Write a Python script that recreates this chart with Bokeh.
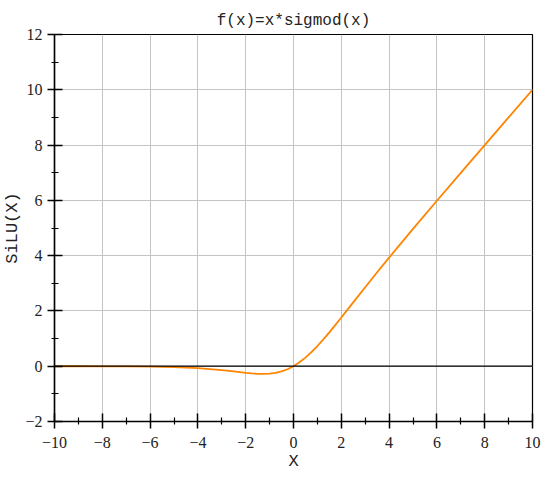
from bokeh.plotting import figure
from bokeh.models import FixedTicker, Span
from bokeh.embed import file_html
from bokeh.resources import INLINE

# data
x_vals = [-10, -9, -8, -7, -6, -5, -4.5, -4, -3.5, -3, -2.5, -2, -1.75, -1.5, -1.25, -1,
          -0.75, -0.5, -0.25, 0, 0.25, 0.5, 0.75, 1, 1.25, 1.5, 2, 2.5, 3, 3.5, 4, 5, 6, 7, 8, 9, 10]
y_vals = [-0.0005, -0.001, -0.003, -0.006, -0.015, -0.033, -0.05, -0.072, -0.102, -0.142,
          -0.189, -0.238, -0.258, -0.274, -0.279, -0.269, -0.240, -0.189, -0.109, 0.0,
          0.141, 0.311, 0.510, 0.731, 0.971, 1.226, 1.762, 2.311, 2.858, 3.398, 3.928,
          4.967, 5.985, 6.994, 7.997, 8.999, 10.0]

x_ticks = [-10, -8, -6, -4, -2, 0, 2, 4, 6, 8, 10]
x_tick_labels = ["\u221210", "\u22128", "\u22126", "\u22124", "\u22122", "0", "2", "4", "6", "8", "10"]
x_minor = [-9, -7, -5, -3, -1, 1, 3, 5, 7, 9]
y_ticks = [-2, 0, 2, 4, 6, 8, 10, 12]
y_tick_labels = ["\u22122", "0", "2", "4", "6", "8", "10", "12"]
y_minor = [-1, 1, 3, 5, 7, 9, 11]

title_text = "f(x)=x*sigmod(x)"
x_label = "X"
y_label = "SiLU(X)"

TEXT = "#222222"

p = figure(width=542, height=473, x_range=(-10, 10), y_range=(-2, 12),
           output_backend="svg", toolbar_location=None, title=title_text,
           min_border_left=54, min_border_right=10, min_border_top=34, min_border_bottom=50)

p.title.align = "center"
p.title.text_font = "Liberation Mono"
p.title.text_font_size = "16px"
p.title.text_font_style = "normal"
p.title.text_color = TEXT

p.outline_line_color = "black"
p.outline_line_width = 1.2
p.background_fill_color = "white"
p.border_fill_color = "white"

for ax, ticks, labels, minor, lab in [(p.xaxis[0], x_ticks, x_tick_labels, x_minor, x_label),
                                      (p.yaxis[0], y_ticks, y_tick_labels, y_minor, y_label)]:
    ax.ticker = FixedTicker(ticks=ticks, minor_ticks=minor)
    ax.major_label_overrides = {t: l for t, l in zip(ticks, labels)}
    ax.axis_label = lab
    ax.axis_label_text_font = "Liberation Mono"
    ax.axis_label_text_font_size = "17px"
    ax.axis_label_text_font_style = "normal"
    ax.axis_label_text_color = TEXT
    ax.major_label_text_font = "Liberation Serif"
    ax.major_label_text_font_size = "16px"
    ax.major_label_text_color = TEXT
    ax.axis_line_color = "black"
    ax.axis_line_width = 1.5
    ax.major_tick_line_color = "black"
    ax.major_tick_line_width = 1.5
    ax.minor_tick_line_color = "black"
    ax.minor_tick_line_width = 1.2
    ax.major_tick_in = 8
    ax.major_tick_out = 7
    ax.minor_tick_in = 4
    ax.minor_tick_out = 3
p.xaxis[0].major_label_standoff = 8
p.xaxis[0].axis_label_standoff = 1
p.yaxis[0].major_label_standoff = 5
p.yaxis[0].axis_label_standoff = 0

for g, ticks in [(p.xgrid[0], x_ticks), (p.ygrid[0], y_ticks)]:
    g.ticker = FixedTicker(ticks=ticks)
    g.grid_line_color = "#c4c4c4"
    g.grid_line_width = 1

p.add_layout(Span(location=0, dimension="width", line_color="black", line_width=1.3))

p.line(x_vals, y_vals, line_color="#ff8400", line_width=1.8)

open("out.html", "w").write(file_html(p, INLINE))
